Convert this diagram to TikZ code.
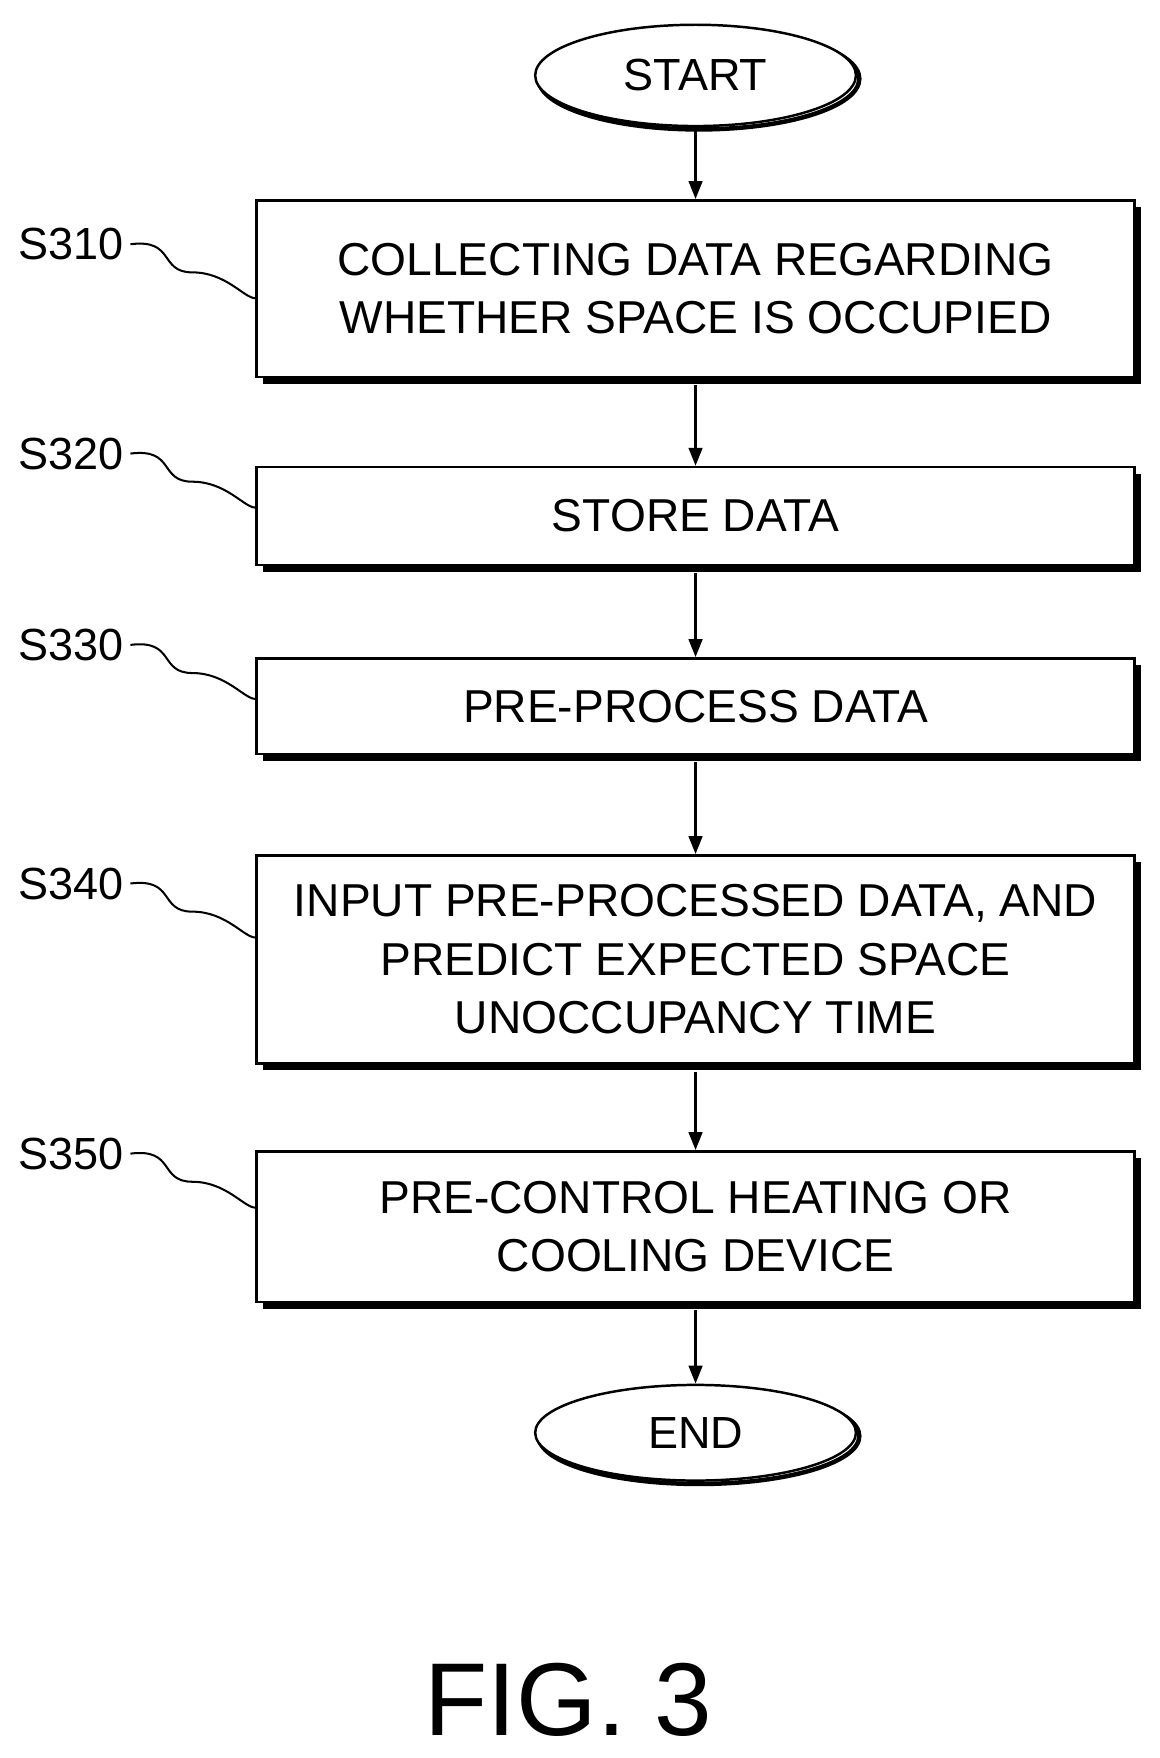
\documentclass[tikz,border=0pt]{standalone}
\usepackage{fontspec}
\setmainfont{Liberation Sans}
\usetikzlibrary{shapes.geometric,arrows.meta}
\begin{document}
\begin{tikzpicture}[x=1pt,y=-1pt,
  box/.style={draw,line width=2.2pt,fill=white,minimum width=780pt,align=center,font=\fontsize{41}{52}\selectfont,inner sep=0pt},
  term/.style={ellipse,draw,line width=2.2pt,fill=white,minimum width=285pt,minimum height=90pt,font=\fontsize{40}{46}\selectfont,inner sep=0pt},
  lab/.style={font=\fontsize{40}{46}\selectfont,inner sep=0pt},
  arr/.style={line width=2.6pt,-{Triangle[length=16pt,width=12pt]}},
  sq/.style={line width=1.8pt}]
\useasboundingbox (0,0) rectangle (1030,1562);
\newcommand{\shbox}[4]{% name, top, bottom, text
  \fill[black] (234,#2+6) rectangle (1014,#3+6);
  \node[box,minimum height=#3-#2] (#1) at (618,{(#2+#3)/2}) {#4};}
\draw[line width=4pt] (621,70) ellipse (142.5 and 45);
\node[term] (start) at (618,67) {START};
\shbox{s310}{178}{335}{COLLECTING DATA REGARDING\\WHETHER SPACE IS OCCUPIED}
\shbox{s320}{415}{502}{STORE DATA}
\shbox{s330}{585}{670}{PRE-PROCESS DATA}
\shbox{s340}{760}{945}{INPUT PRE-PROCESSED DATA, AND\\PREDICT EXPECTED SPACE\\UNOCCUPANCY TIME}
\shbox{s350}{1023}{1157}{PRE-CONTROL HEATING OR\\COOLING DEVICE}
\draw[line width=4pt] (621,1276) ellipse (142.5 and 42.5);
\node[term,minimum height=85pt] (end) at (618,1273) {END};
\draw[arr] (start) -- (s310);
\draw[arr] (s310.south) ++(0,6) coordinate (a1) -- (s320);
\draw[arr] (s320.south) ++(0,6) -- (s330);
\draw[arr] (s330.south) ++(0,6) -- (s340);
\draw[arr] (s340.south) ++(0,6) -- (s350);
\draw[arr] (s350.south) ++(0,6) -- (end);
\foreach \n/\t/\y in {s310/S310/217,s320/S320/403,s330/S330/573,s340/S340/785,s350/S350/1025}{
  \node[lab] (l\n) at (63,\y) {\t};
  \draw[sq] (l\n.east) ++(6,0) .. controls +(40,-5) and +(-30,0) .. ++(55,25) .. controls +(30,0) and +(-10,0) .. (\n.west |- 0,\y+48);
}
\node[font=\fontsize{92}{100}\selectfont,inner sep=0pt] (fig) at (505,1510) {FIG. 3};
\end{tikzpicture}
\end{document}
